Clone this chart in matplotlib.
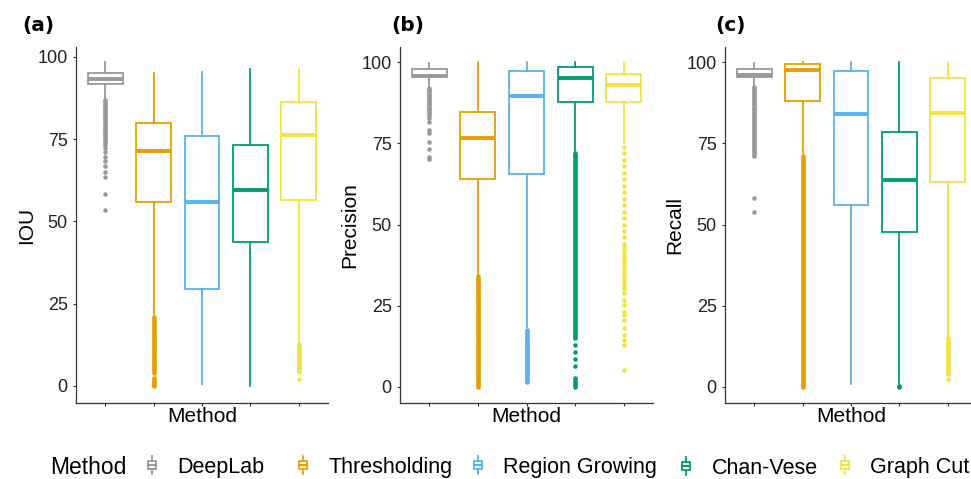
import matplotlib
matplotlib.use("Agg")
import matplotlib.pyplot as plt
from matplotlib.patches import Rectangle, Patch
from matplotlib.lines import Line2D
from matplotlib.legend_handler import HandlerBase

plt.rcParams['font.family'] = ['Liberation Sans', 'DejaVu Sans']

# methods and colours
methods = ['DeepLab', 'Thresholding', 'Region Growing', 'Chan-Vese', 'Graph Cut']
colors = ['#999999', '#E69F00', '#56B4E9', '#009E73', '#F0E442']

# (a) IOU box stats
iou_q1 = [91.8, 56.0, 29.6, 43.7, 56.5]
iou_med = [93.4, 71.5, 56.0, 59.6, 76.3]
iou_q3 = [95.2, 79.8, 76.0, 73.3, 86.2]
iou_lo = [87.4, 21.5, 0.6, 0.0, 13.2]
iou_hi = [98.3, 95.2, 95.5, 96.3, 96.3]
iou_out = [
    [87, 86.5, 86, 85.5, 85, 84.5, 84, 83.5, 83, 82.5, 82, 81.5, 81, 80.5,
     80, 79.5, 79, 78.5, 78, 77.5, 77, 76.5, 76, 75.5, 75, 74.5, 74, 73.3,
     72.2, 71.2, 69.7, 68.2, 66.7, 65.1, 63.6, 58.2, 53.6],
    [21, 20.5, 20, 19.5, 19, 18.5, 18, 17.5, 17, 16.5, 16, 15.5, 15, 14.5,
     14, 13.5, 13, 12.5, 12, 11.5, 11, 10.5, 10, 9.5, 9, 8.5, 8, 7.5, 7,
     6.5, 6, 5.5, 5, 4.5, 4, 2.4, 2, 1.6, 1.2, 0.8, 0.4, 0],
    [],
    [],
    [12.7, 12.2, 11.7, 11.2, 10.7, 10.2, 9.7, 9.2, 8.7, 8.2, 7.7, 7.2,
     6.7, 6.2, 5.7, 5.2, 4.7, 4.2, 2.1],
]

# (b) Precision
prec_q1 = [95.4, 64.1, 65.6, 87.7, 87.6]
prec_med = [95.8, 76.6, 89.7, 95.3, 93.0]
prec_q3 = [97.8, 84.6, 97.4, 98.4, 96.4]
prec_lo = [92.5, 34.5, 18.3, 72.8, 75.0]
prec_hi = [99.9, 100, 100, 100, 100]
prec_out = [
    [92, 91.5, 91, 90.5, 90, 89.5, 89, 88.5, 88, 87.5, 87, 86.5, 86, 85.5,
     85, 84.3, 83.7, 82.7, 81.7, 79.1, 78.1, 75.5, 73.2, 70.9, 70.2],
    [34, 33.5, 33, 32.5, 32, 31.5, 31, 30.5, 30, 29.5, 29, 28.5, 28, 27.5,
     27, 26.5, 26, 25.5, 25, 24.5, 24, 23.5, 23, 22.5, 22, 21.5, 21, 20.5,
     20, 19.5, 19, 18.5, 18, 17.5, 17, 16.5, 16, 15.5, 15, 14.5, 14, 13.5,
     13, 12.5, 12, 11.5, 11, 10.5, 10, 9.5, 9, 8.5, 8, 7.5, 7, 6.5, 6,
     5.5, 5, 4.5, 4, 3.5, 3, 2.5, 2, 1.5, 1, 0.5, 0],
    [17.5, 17, 16.5, 16, 15.5, 15, 14.5, 14, 13.5, 13, 12.5, 12, 11.5, 11,
     10.5, 10, 9.5, 9, 8.5, 8, 7.5, 7, 6.5, 6, 5.5, 5, 4.5, 4, 3.5, 3,
     2.5, 2, 1.5],
    [72, 71.5, 71, 70.5, 70, 69.5, 69, 68.5, 68, 67.5, 67, 66.5, 66, 65.5,
     65, 64.5, 64, 63.5, 63, 62.5, 62, 61.5, 61, 60.5, 60, 59.5, 59, 58.5,
     58, 57.5, 57, 56.5, 56, 55.5, 55, 54.5, 54, 53.5, 53, 52.5, 52, 51.5,
     51, 50.5, 50, 49.5, 49, 48.5, 48, 47.5, 47, 46.5, 46, 45.5, 45, 44.5,
     44, 43.5, 43, 42.5, 42, 41.5, 41, 40.5, 40, 39.5, 39, 38.5, 38, 37.5,
     37, 36.5, 36, 35.5, 35, 34.5, 34, 33.5, 33, 32.5, 32, 31.5, 31, 30.5,
     30, 29.5, 29, 28.5, 28, 27.5, 27, 26.5, 26, 25.5, 25, 24.5, 24, 23.5,
     23, 22.5, 22, 21.5, 21, 20.5, 20, 19.5, 19, 18.5, 18, 17.5, 17, 16.5,
     16, 15.5, 15, 12.9, 10.8, 8.5, 6.5, 2.6, 2, 1.5, 1, 0.5, 0],
    [74, 72, 70, 68, 66, 64, 62, 60, 58, 56, 54, 52, 50, 48, 46, 44, 43,
     42, 41, 40, 39, 38, 37, 36, 35, 34, 33, 32, 31, 30, 29, 26.7, 25.2,
     23.1, 22.1, 20.6, 18.0, 15.9, 14.4, 12.9, 5.1],
]

# (c) Recall
rec_q1 = [95.5, 88.0, 56.0, 47.8, 63.0]
rec_med = [96.1, 97.6, 84.0, 63.7, 84.5]
rec_q3 = [97.9, 99.5, 97.3, 78.6, 95.1]
rec_lo = [92.9, 72.0, 0.8, 0.6, 15.6]
rec_hi = [99.9, 100, 100, 100, 99.7]
rec_out = [
    [92.5, 92, 91.5, 91, 90.5, 90, 89.5, 89, 88.5, 88, 87.5, 87, 86.5, 86,
     85.5, 85, 84.5, 84, 83.5, 83, 82.5, 82, 81.5, 81, 80.5, 80, 79.5, 79,
     78.5, 78, 77.5, 77, 76.5, 76, 75.5, 75, 74.5, 74, 73.5, 73, 72.5, 72,
     71.5, 71, 58.3, 53.8],
    [71, 70.5, 70, 69.5, 69, 68.5, 68, 67.5, 67, 66.5, 66, 65.5, 65, 64.5,
     64, 63.5, 63, 62.5, 62, 61.5, 61, 60.5, 60, 59.5, 59, 58.5, 58, 57.5,
     57, 56.5, 56, 55.5, 55, 54.5, 54, 53.5, 53, 52.5, 52, 51.5, 51, 50.5,
     50, 49.5, 49, 48.5, 48, 47.5, 47, 46.5, 46, 45.5, 45, 44.5, 44, 43.5,
     43, 42.5, 42, 41.5, 41, 40.5, 40, 39.5, 39, 38.5, 38, 37.5, 37, 36.5,
     36, 35.5, 35, 34.5, 34, 33.5, 33, 32.5, 32, 31.5, 31, 30.5, 30, 29.5,
     29, 28.5, 28, 27.5, 27, 26.5, 26, 25.5, 25, 24.5, 24, 23.5, 23, 22.5,
     22, 21.5, 21, 20.5, 20, 19.5, 19, 18.5, 18, 17.5, 17, 16.5, 16, 15.5,
     15, 14.5, 14, 13.5, 13, 12.5, 12, 11.5, 11, 10.5, 10, 9.5, 9, 8.5, 8,
     7.5, 7, 6.5, 6, 5.5, 5, 4.5, 4, 3.5, 3, 2.5, 2, 1.5, 1, 0.5, 0],
    [],
    [0.3, 0],
    [15, 14.5, 14, 13.5, 13, 12.5, 12, 11.5, 11, 10.5, 10, 9.5, 9, 8.5, 8,
     7.5, 7, 6.5, 6, 5.5, 5, 4.5, 4, 2.3],
]


class BoxKey(HandlerBase):
    # small boxplot glyph for legend keys
    def create_artists(self, legend, orig_handle, xdescent, ydescent,
                       width, height, fontsize, trans):
        c = orig_handle.get_edgecolor()
        cx = -xdescent + width / 2
        y0 = -ydescent
        bw = 6
        wh = Line2D([cx, cx], [y0 - 1, y0 + height + 1], color=c, lw=1.3)
        box = Rectangle((cx - bw / 2, y0 + 0.22 * height), bw, 0.56 * height,
                        facecolor='white', edgecolor=c, lw=1.3)
        md = Line2D([cx - bw / 2, cx + bw / 2], [y0 + 0.5 * height] * 2,
                    color=c, lw=1.6)
        for a in (wh, box, md):
            a.set_transform(trans)
        return [wh, box, md]


def panel(ax, q1, med, q3, lo, hi, out, ylabel, ylim):
    for i in range(len(methods)):
        c = colors[i]
        s = dict(med=med[i], q1=q1[i], q3=q3[i], whislo=lo[i], whishi=hi[i],
                 fliers=out[i])
        ax.bxp([s], positions=[i + 1], widths=0.72, showcaps=False,
               patch_artist=True,
               boxprops=dict(facecolor='white', edgecolor=c, linewidth=1.3),
               whiskerprops=dict(color=c, linewidth=1.3),
               medianprops=dict(color=c, linewidth=2.8),
               flierprops=dict(marker='o', markerfacecolor=c,
                               markeredgecolor=c, markeredgewidth=0,
                               markersize=3.3, linestyle='none'))
    ax.set_xlim(0.4, 5.6)
    ax.set_ylim(*ylim)
    ax.set_yticks([0, 25, 50, 75, 100])
    ax.set_xticks([1, 2, 3, 4, 5])
    ax.set_xticklabels([''] * 5)
    for sp in ['top', 'right']:
        ax.spines[sp].set_visible(False)
    for sp in ['left', 'bottom']:
        ax.spines[sp].set_color('#333333')
        ax.spines[sp].set_linewidth(0.9)
    ax.tick_params(length=2.5, width=0.8, color='#333333', labelsize=13,
                   labelcolor='#222222', pad=3.5)
    ax.set_ylabel(ylabel, fontsize=15)
    ax.yaxis.set_label_coords(-0.16, 0.5)
    ax.set_xlabel('Method', fontsize=15)
    ax.xaxis.set_label_coords(0.5, -0.012)


W, H = 971, 479
fig = plt.figure(figsize=(W / 100, H / 100), dpi=100)
bot = 1 - 403 / H
hgt = 356 / H
ax_a = fig.add_axes([76 / W, bot, 252 / W, hgt])
ax_b = fig.add_axes([400 / W, bot, 253 / W, hgt])
ax_c = fig.add_axes([725 / W, bot, 252 / W, hgt])

panel(ax_a, iou_q1, iou_med, iou_q3, iou_lo, iou_hi, iou_out, 'IOU', (-5.2, 103.0))
panel(ax_b, prec_q1, prec_med, prec_q3, prec_lo, prec_hi, prec_out, 'Precision', (-5.0, 104.7))
panel(ax_c, rec_q1, rec_med, rec_q3, rec_lo, rec_hi, rec_out, 'Recall', (-5.0, 104.7))

for x, t in [(38, '(a)'), (408, '(b)'), (730, '(c)')]:
    fig.text(x / W, 1 - 26 / H, t, ha='center', va='center', fontsize=14.5,
             fontweight='bold', family='DejaVu Sans')

# legend along the bottom: title plus one entry per method
fig.text(50 / W, 1 - 467 / H, 'Method', ha='left', va='center', fontsize=16.5)
key_x = [152, 303, 478, 686, 845]
key_dy = [0, 0, 0, -1.2, 0]  # Chan-Vese has no descender, nudge it to share the baseline
fs = 15.5
half = 0.8 * fs * 100 / 72 / 2
for c, m, kx, dy in zip(colors, methods, key_x, key_dy):
    fig.legend([Patch(edgecolor=c, facecolor='white')], [m], loc='center left',
               bbox_to_anchor=((kx - half) / W, 1 - (467 - dy) / H), frameon=False,
               handler_map={Patch: BoxKey()}, handlelength=0.8,
               handleheight=0.7, handletextpad=0.78, fontsize=fs,
               borderpad=0, borderaxespad=0)

fig.savefig('out.png', dpi=100)
